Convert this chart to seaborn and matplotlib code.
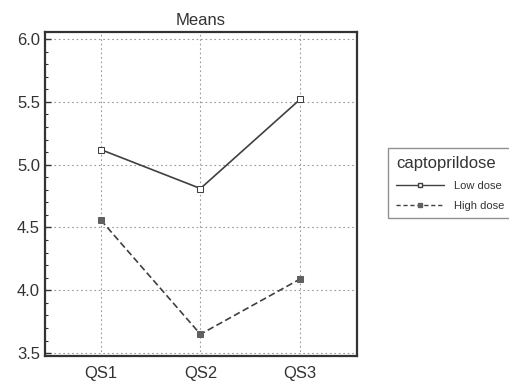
import pandas as pd
import matplotlib.pyplot as plt
import seaborn as sns
from matplotlib.ticker import MultipleLocator

# means
questions = ["QS1", "QS2", "QS3"]
low_dose = [5.12, 4.81, 5.52]
high_dose = [4.56, 3.65, 4.09]
groups = ["Low dose", "High dose"]

df = pd.DataFrame({
    "question": questions * 2,
    "pos": [0, 1, 2] * 2,
    "mean": low_dose + high_dose,
    "captoprildose": [groups[0]] * 3 + [groups[1]] * 3,
})

sns.set_style("white")
plt.rcParams['font.family'] = ['Liberation Sans', 'DejaVu Sans']

fig = plt.figure(figsize=(5.1, 3.85), dpi=100)
ax = fig.add_axes([0.088, 0.075, 0.612, 0.842])

col = "#404040"
sns.lineplot(data=df, x="pos", y="mean", hue="captoprildose", style="captoprildose",
             palette=[col, col], dashes=[(None, None), (4, 2)],
             markers=["s", "s"], markersize=5, linewidth=1.2, ax=ax, legend=False)
# open squares for low dose, filled for high dose
lines = ax.get_lines()
lines[0].set_markerfacecolor("white")
lines[0].set_markeredgecolor(col)
lines[1].set_markerfacecolor("#606060")
lines[1].set_markeredgecolor("#606060")

ax.set_xlim(-0.56, 2.57)
ax.set_ylim(3.476, 6.056)
ax.set_xticks([0, 1, 2])
ax.set_xticklabels(questions)
ax.yaxis.set_major_locator(MultipleLocator(0.5))
ax.yaxis.set_minor_locator(MultipleLocator(0.1))
ax.yaxis.set_major_formatter(plt.FormatStrFormatter("%.1f"))
ax.tick_params(axis="y", which="major", left=True, length=4, width=1, direction="in", labelsize=12, colors="#333333")
ax.tick_params(axis="y", which="minor", left=True, length=2, width=0.8, direction="in", colors="#333333")
ax.tick_params(axis="x", bottom=False, labelsize=12, colors="#333333")
ax.grid(True, linestyle=(0, (1.5, 2.5)), color="#999999", linewidth=0.8)
for s in ax.spines.values():
    s.set_linewidth(1.6)
    s.set_color("#333333")
ax.set_xlabel("")
ax.set_ylabel("")
ax.set_title("Means", fontsize=12, color="#333333", pad=5)

handles = [
    plt.Line2D([], [], color=col, linewidth=1, marker="s", markersize=3.5,
               markerfacecolor="white"),
    plt.Line2D([], [], color=col, linewidth=1, linestyle=(0, (3, 2)), marker="s",
               markersize=3.5, markerfacecolor="#606060", markeredgecolor="#606060"),
]
leg = fig.legend(handles, groups, title="captoprildose", loc="upper left",
                 bbox_to_anchor=(0.761, 0.616), borderaxespad=0, fontsize=8,
                 title_fontsize=12, frameon=True, fancybox=False, edgecolor="#777777",
                 handlelength=4.3, handletextpad=0.9, alignment="left", borderpad=0.7,
                 labelspacing=0.9)
leg.get_frame().set_linewidth(1)
for t in leg.get_texts():
    t.set_color("#333333")
leg.get_title().set_color("#333333")

fig.savefig("out.png", dpi=100)
